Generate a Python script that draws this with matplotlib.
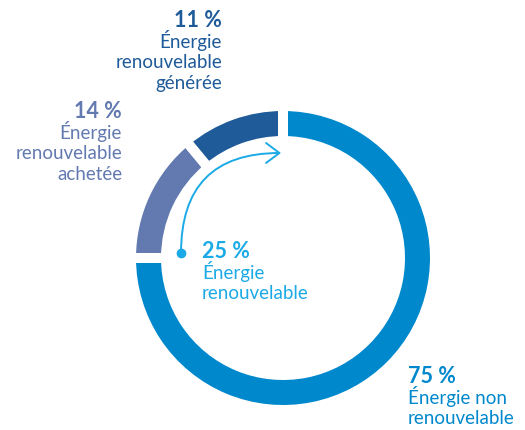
import matplotlib
matplotlib.use("Agg")

import matplotlib.pyplot as plt
from matplotlib.patches import FancyArrowPatch

# shares of energy (%), drawn clockwise from 12 o'clock
shares = [75, 14, 11]
ring_colors = ["#0088CC", "#637AB0", "#1F5A99"]

pct_labels = ["75 %", "14 %", "11 %", "25 %"]
text_lines = [
    ["Énergie non", "renouvelable"],
    ["Énergie", "renouvelable", "achetée"],
    ["Énergie", "renouvelable", "générée"],
    ["Énergie", "renouvelable"],
]
text_colors = ["#0088CC", "#637AB0", "#1F5A99", "#1BAAE6"]

W, H = 525, 430
plt.rcParams["font.family"] = ["Lato", "DejaVu Sans"]

fig = plt.figure(figsize=(W / 100, H / 100), dpi=100)
ax = fig.add_axes([0, 0, 1, 1])

cx, cy = 283, H - 258
ax.pie(
    shares,
    colors=ring_colors,
    startangle=90,
    counterclock=False,
    center=(cx, cy),
    radius=152,
    wedgeprops=dict(width=35, edgecolor="white", linewidth=7.2),
)

# label anchors in pixel coords (x, baseline of percent, alignment)
anchors = [
    (408, 383, "left"),
    (122, 118, "right"),
    (222, 27, "right"),
    (202, 258, "left"),
]
for (x, y, ha), pct, lines, color in zip(anchors, pct_labels, text_lines, text_colors):
    ax.text(x, H - y, pct, ha=ha, va="baseline", fontsize=15.5,
            fontweight="bold", color=color)
    for i, line in enumerate(lines):
        ax.text(x, H - (y + 20.7 * (i + 1)), line, ha=ha, va="baseline",
                fontsize=13.5, fontweight="normal", color=color)

# arrow for the renewable share
start = (181, H - 253)
end = (281, H - 153)
arrow = FancyArrowPatch(start, end, connectionstyle="arc3,rad=-0.5",
                        arrowstyle="->,head_length=0.6,head_width=0.45",
                        mutation_scale=16, color="#1BAAE6", linewidth=1.4,
                        shrinkA=0, shrinkB=0)
ax.add_patch(arrow)
ax.plot([start[0]], [start[1]], marker="o", markersize=6, color="#1BAAE6")

ax.set_xlim(0, W)
ax.set_ylim(0, H)
ax.set_aspect("equal")
ax.axis("off")

fig.savefig("out.png", dpi=100, facecolor="white")
